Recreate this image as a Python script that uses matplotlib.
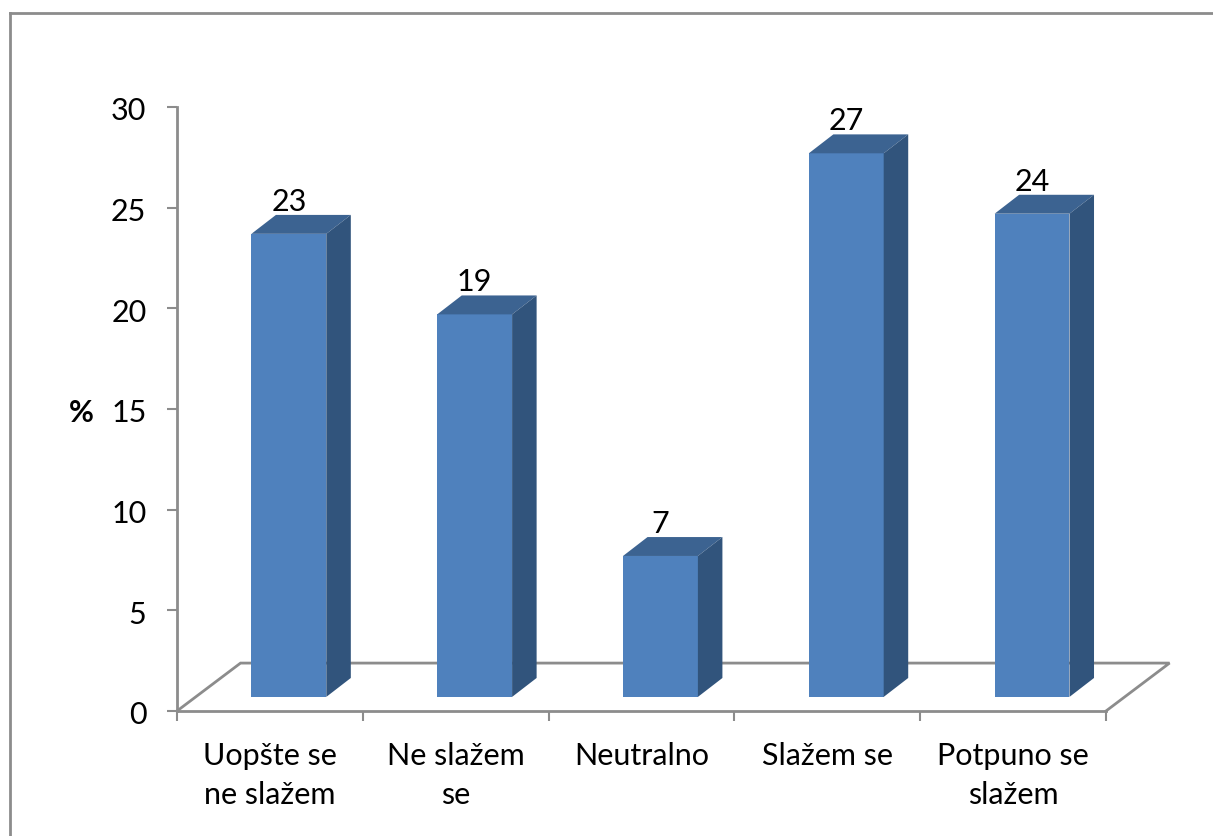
import matplotlib
matplotlib.use("Agg")
import matplotlib.pyplot as plt
from matplotlib.patches import Polygon
from matplotlib.transforms import ScaledTranslation

plt.rcParams['font.family'] = ['Lato', 'DejaVu Sans']

kategorije = ["Uopšte se\nne slažem", "Ne slažem\nse", "Neutralno", "Slažem se", "Potpuno se\nslažem"]
vrijednosti = [23, 19, 7, 27, 24]
y_ticks = [0, 5, 10, 15, 20, 25, 30]

W, H = 1213, 836
SIVA = '#8c8c8c'
PREDNJA = '#4f81bd'
GORNJA = '#3c6391'
BOCNA = '#31547c'

fig = plt.figure(figsize=(W/100, H/100), dpi=100, facecolor='white')

# okvir oko cijelog grafikona (desna i donja strana su odrezane)
fig.add_artist(plt.Line2D([9.5/W, 9.5/W], [0, 1-13/H], color=SIVA, lw=2))
fig.add_artist(plt.Line2D([9.5/W, 1], [1-13/H, 1-13/H], color=SIVA, lw=2))

ax = fig.add_axes([177/W, 1-711/H, (1106-177)/W, (711-107)/H])
ax.set_xlim(0, 5)
ax.set_ylim(0, 30)
ax.patch.set_visible(False)

# pseudo 3D pomaci u jedinicama osi
dx = 0.342
dy = 2.38
bar_w = 0.403
bar_dx = 0.102
bar_dy = 0.7
d2x = 0.132
d2y = 0.94

# pod
ax.plot([0, dx, 5+dx, 5], [0, dy, dy, 0], color=SIVA, lw=2, clip_on=False, zorder=1,
        solid_joinstyle='miter')

x_pos = [i+0.5 for i in range(len(vrijednosti))]
for x, v in zip(x_pos, vrijednosti):
    l = x-bar_w/2+bar_dx
    r = l+bar_w
    top = v+bar_dy
    ax.bar(l, v, width=bar_w, bottom=bar_dy, align='edge', color=PREDNJA, zorder=3)
    ax.add_patch(Polygon([(l, top), (r, top), (r+d2x, top+d2y), (l+d2x, top+d2y)],
                         closed=True, fc=GORNJA, ec='none', zorder=3))
    ax.add_patch(Polygon([(r, bar_dy), (r+d2x, bar_dy+d2y), (r+d2x, top+d2y), (r, top)],
                         closed=True, fc=BOCNA, ec='none', zorder=3))
    ax.text(l+bar_w/2, top+0.9, str(v), ha='center', va='bottom', fontsize=22, color='black', zorder=4)

for s in ['top', 'right']:
    ax.spines[s].set_visible(False)
for s in ['left', 'bottom']:
    ax.spines[s].set_color(SIVA)
    ax.spines[s].set_linewidth(2)
    ax.spines[s].set_zorder(2)

ax.set_yticks(y_ticks)
ax.set_xticks(range(6))
ax.set_xticklabels([])
ax.tick_params(axis='both', length=7, width=1.5, color=SIVA)
ax.tick_params(axis='y', labelsize=22, pad=15, labelcolor='black')
pomak = ScaledTranslation(0, -2/100, fig.dpi_scale_trans)
for t in ax.get_yticklabels():
    t.set_transform(t.get_transform()+pomak)

for x, k in zip(x_pos, kategorije):
    ax.annotate(k, xy=(x, 0), xycoords='data', xytext=(0, -22), textcoords='offset points',
                ha='center', va='top', fontsize=22, color='black', linespacing=1.49)

ax.annotate('%', xy=(0, 15), xycoords='data', xytext=(-60, -3), textcoords='offset points',
            ha='right', va='center', fontsize=22, fontweight='bold', color='black')

fig.savefig('out.png', dpi=100)
